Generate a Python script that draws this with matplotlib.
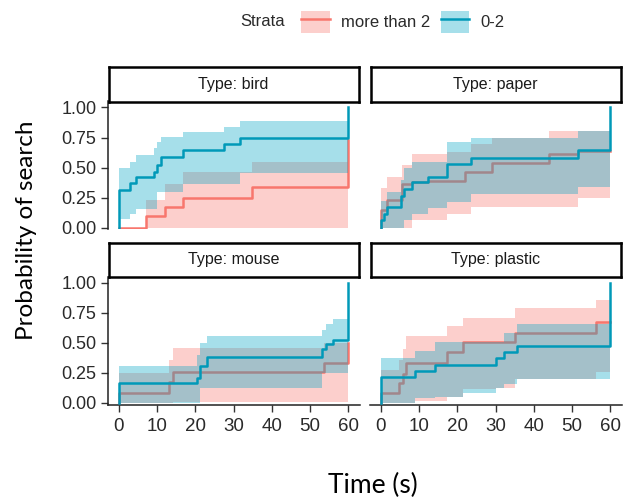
import matplotlib.pyplot as plt
from matplotlib.patches import Patch
from matplotlib.lines import Line2D
from matplotlib.colors import to_rgba

# Cumulative probability of search (time in s).
# "hi" = strata "more than 2", "lo" = strata "0-2"; up/dn = confidence band.
bird_hi_t = [0, 7, 12, 16.7, 34.8, 60]
bird_hi_p = [0, 0.098, 0.168, 0.25, 0.335, 0.73]
bird_hi_up = [0, 0.23, 0.363, 0.46, 0.55, 0.55]
bird_hi_dn = [0, 0, 0, 0, 0, 0]
bird_lo_t = [0, 2.8, 4.4, 9.1, 10, 11, 16.7, 27.5, 31.6, 60]
bird_lo_p = [0.313, 0.369, 0.425, 0.466, 0.517, 0.587, 0.642, 0.698, 0.749, 1.0]
bird_lo_up = [0.494, 0.55, 0.606, 0.66, 0.71, 0.754, 0.796, 0.838, 0.885, 0.885]
bird_lo_dn = [0.07, 0.112, 0.154, 0.154, 0.293, 0.293, 0.363, 0.363, 0.455, 0.455]

paper_hi_t = [0, 1.6, 5.5, 8.1, 12.4, 17.4, 22, 23.7, 29, 44, 51.6, 60]
paper_hi_p = [0.15, 0.23, 0.36, 0.377, 0.39, 0.39, 0.466, 0.466, 0.536, 0.615, 0.64, 0.64]
paper_hi_up = [0.33, 0.42, 0.52, 0.61, 0.61, 0.63, 0.63, 0.70, 0.75, 0.805, 0.805, 0.805]
paper_hi_dn = [0, 0, 0, 0.06, 0.06, 0.11, 0.11, 0.17, 0.175, 0.175, 0.245, 0.245]
paper_lo_t = [0, 0.7, 1.7, 5.2, 6.1, 8.1, 12.4, 17.4, 23.7, 51.6, 60]
paper_lo_p = [0.061, 0.112, 0.168, 0.265, 0.321, 0.377, 0.419, 0.531, 0.581, 0.642, 1.0]
paper_lo_up = [0.22, 0.22, 0.30, 0.40, 0.50, 0.55, 0.55, 0.71, 0.75, 0.805, 0.805]
paper_lo_dn = [0, 0, 0, 0, 0.065, 0.11, 0.16, 0.21, 0.28, 0.335, 0.335]

mouse_hi_t = [0, 13, 14.1, 53.7, 60]
mouse_hi_p = [0.083, 0.175, 0.258, 0.333, 0.50]
mouse_hi_up = [0.245, 0.355, 0.46, 0.50, 0.50]
mouse_hi_dn = [0, 0, 0.01, 0.01, 0.01]
mouse_lo_t = [0, 20.5, 21.3, 23, 53.3, 54.3, 56, 60]
mouse_lo_p = [0.161, 0.21, 0.31, 0.378, 0.45, 0.49, 0.522, 1.0]
mouse_lo_up = [0.306, 0.40, 0.50, 0.555, 0.61, 0.66, 0.70, 0.70]
mouse_lo_dn = [0, 0, 0.12, 0.12, 0.25, 0.25, 0.25, 0.25]

plastic_hi_t = [0, 4.8, 5.8, 6.5, 8.9, 17.3, 21.5, 30.1, 35, 56.2, 60]
plastic_hi_p = [0.083, 0.167, 0.236, 0.333, 0.333, 0.425, 0.508, 0.508, 0.583, 0.675, 0.675]
plastic_hi_up = [0.27, 0.355, 0.45, 0.555, 0.555, 0.64, 0.71, 0.71, 0.786, 0.855, 0.855]
plastic_hi_dn = [0, 0, 0, 0, 0.017, 0.05, 0.116, 0.124, 0.2, 0.254, 0.254]
plastic_lo_t = [0, 8.9, 14.1, 21.5, 30.1, 32.1, 35.6, 60]
plastic_lo_p = [0.211, 0.267, 0.314, 0.314, 0.37, 0.425, 0.472, 1.0]
plastic_lo_up = [0.37, 0.43, 0.505, 0.505, 0.505, 0.58, 0.66, 0.66]
plastic_lo_dn = [0, 0.04, 0.05, 0.083, 0.12, 0.157, 0.2, 0.2]

types = ["bird", "paper", "mouse", "plastic"]
strata = ["more than 2", "0-2"]
x_ticks = [0, 10, 20, 30, 40, 50, 60]
y_ticks = [0, 0.25, 0.5, 0.75, 1.0]

curves = {
    "bird": [(bird_hi_t, bird_hi_p, bird_hi_up, bird_hi_dn),
             (bird_lo_t, bird_lo_p, bird_lo_up, bird_lo_dn)],
    "paper": [(paper_hi_t, paper_hi_p, paper_hi_up, paper_hi_dn),
              (paper_lo_t, paper_lo_p, paper_lo_up, paper_lo_dn)],
    "mouse": [(mouse_hi_t, mouse_hi_p, mouse_hi_up, mouse_hi_dn),
              (mouse_lo_t, mouse_lo_p, mouse_lo_up, mouse_lo_dn)],
    "plastic": [(plastic_hi_t, plastic_hi_p, plastic_hi_up, plastic_hi_dn),
                (plastic_lo_t, plastic_lo_p, plastic_lo_up, plastic_lo_dn)],
}

line_cols = ["#F8766D", "#0099B8"]
fill_cols = ["#F8766D", "#00A5C4"]
ALPHA = 0.35
TXT = "#2a2a2a"

W, H = 629, 500
fig = plt.figure(figsize=(W / 100, H / 100), dpi=100)
plt.rcParams['font.family'] = ['Liberation Sans', 'DejaVu Sans']


def px_box(x0, y0, x1, y1):
    # pixel box (top-left origin) -> figure fraction rect
    return [x0 / W, 1 - y1 / H, (x1 - x0) / W, (y1 - y0) / H]


col_x = [(107.5, 359.5), (369.5, 621.5)]
row_y = [(101.5, 229.3), (276.7, 404.5)]
strip_y = [(67, 101.5), (243, 276.7)]

for i, kind in enumerate(types):
    r, c = divmod(i, 2)
    x0, x1 = col_x[c]
    y0, y1 = row_y[r]
    ax = fig.add_axes(px_box(x0, y0, x1, y1))

    # band then line per stratum, so the 0-2 band sits over the pink line
    for k, (t, p, up, dn) in enumerate(curves[kind]):
        ax.fill_between(t, dn, up, step="post", color=fill_cols[k],
                        alpha=ALPHA, lw=0, zorder=1 + 2 * k)
        ax.plot([0] + t, [0] + p, drawstyle="steps-post",
                color=line_cols[k], lw=1.8, zorder=2 + 2 * k)

    ax.set_xlim(-3, 63)
    ax.set_ylim(-0.015, 1.05)
    for s in ["top", "right"]:
        ax.spines[s].set_visible(False)
    ax.spines["left"].set_visible(c == 0)
    ax.spines["bottom"].set_visible(r == 1)
    for s in ["left", "bottom"]:
        ax.spines[s].set_color("#222222")
        ax.spines[s].set_linewidth(1.1)

    ax.set_xticks(x_ticks)
    ax.set_yticks(y_ticks)
    ax.set_yticklabels(["0.00", "0.25", "0.50", "0.75", "1.00"])
    ax.tick_params(axis="both", colors="#333333", labelcolor=TXT,
                   labelsize=13, length=5, width=1.0, pad=3)
    ax.tick_params(axis="x", pad=5, labelsize=13.5)
    if c != 0:
        ax.tick_params(axis="y", left=False, labelleft=False)
    if r != 1:
        ax.tick_params(axis="x", bottom=False, labelbottom=False)

    # facet strip
    sy0, sy1 = strip_y[r]
    sax = fig.add_axes(px_box(x0 + 1, sy0, x1 - 1, sy1))
    sax.set_xticks([])
    sax.set_yticks([])
    for s in sax.spines.values():
        s.set_linewidth(1.8)
        s.set_color("black")
    sax.text(0.5, 0.5, f"Type: {kind}", ha="center", va="center",
             fontsize=11.5, color="#1a1a1a", transform=sax.transAxes)

# legend at the top
handles = []
for k in range(2):
    handles.append((Patch(facecolor=to_rgba(fill_cols[k], ALPHA), edgecolor="none"),
                    Line2D([], [], color=line_cols[k], lw=1.8)))
fig.legend(handles, strata, loc="center left",
           bbox_to_anchor=(293 / W, 1 - 22 / H), ncols=2, frameon=False,
           borderpad=0, handlelength=1.7, handleheight=1.6,
           handletextpad=0.7, columnspacing=0.6, fontsize=12,
           labelcolor=TXT)
fig.text(285 / W, 1 - 22 / H, "Strata", ha="right", va="center",
         fontsize=12, color=TXT)

fig.text(373 / W, 1 - 485 / H, "Time (s)", ha="center", va="center",
         fontsize=19, family="Lato", color="black")
fig.text(27 / W, 1 - 230 / H, "Probability of search", ha="center",
         va="center", rotation=90, fontsize=17.5, family="Lato", color="black")

fig.savefig("out.png", dpi=100)
